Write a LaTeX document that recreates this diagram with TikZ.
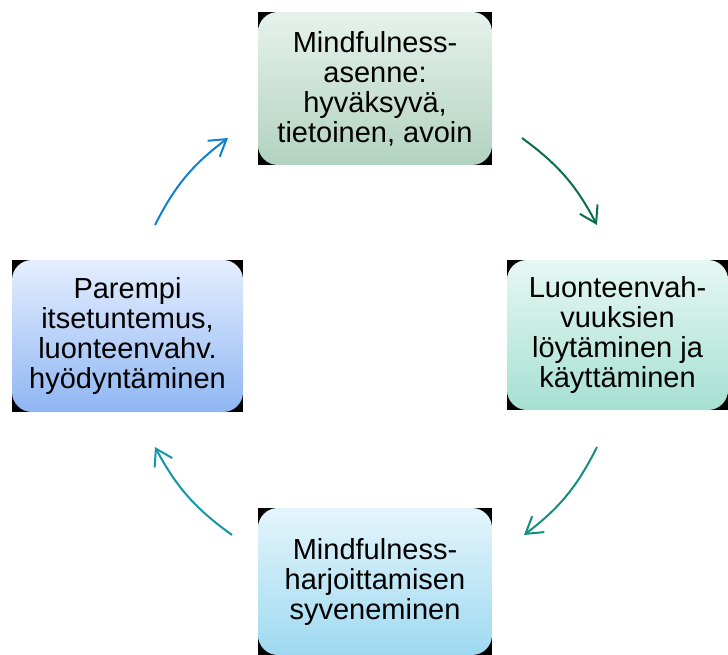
\documentclass[tikz,border=0pt]{standalone}
\usepackage{fontspec}
\setmainfont{Liberation Sans}
\usepackage{tikz}
\usetikzlibrary{arrows.meta, backgrounds}

\definecolor{arrgreen}{HTML}{0A6E4A}
\definecolor{arrteal}{HTML}{138F80}
\definecolor{arrcyan}{HTML}{1398A8}
\definecolor{arrblue}{HTML}{1080D0}

\begin{document}
\begin{tikzpicture}[
  x=1pt, y=-1pt,
  box/.style={rectangle, rounded corners=20pt, align=center, inner sep=0pt,
    minimum width=234pt, minimum height=153pt,
    font=\fontsize{29}{30}\selectfont},
  cyclearrow/.style={-{Straight Barb[length=16pt,width=20pt]}, line width=2pt, bend left=13}
]
\useasboundingbox (0,0) rectangle (728,655);

% Boxes round the cycle
\node[box, top color={rgb,255:red,230;green,242;blue,236}, bottom color={rgb,255:red,178;green,210;blue,192}] (attitude) at (375,88.5)
  {Mindfulness-\\asenne:\\hyväksyvä,\\tietoinen, avoin};
\node[box, minimum width=221pt, minimum height=150pt, top color={rgb,255:red,230;green,247;blue,244}, bottom color={rgb,255:red,166;green,224;blue,210}] (strengths) at (617.5,335)
  {Luonteenvah-\\vuuksien\\löytäminen ja\\käyttäminen};
\node[box, minimum height=147pt, top color={rgb,255:red,228;green,245;blue,252}, bottom color={rgb,255:red,158;green,217;blue,240}] (practice) at (375,581.5)
  {Mindfulness-\\harjoittamisen\\syveneminen};
\node[box, minimum width=231pt, minimum height=152pt, top color={rgb,255:red,228;green,238;blue,255}, bottom color={rgb,255:red,143;green,182;blue,242}] (insight) at (127.5,336)
  {Parempi\\itsetuntemus,\\luonteenvahv.\\hyödyntäminen};

% Black plates behind the rounded corners
\begin{pgfonlayer}{background}
  \foreach \b in {attitude, strengths, practice, insight}
    \fill[black] (\b.south west) rectangle (\b.north east);
\end{pgfonlayer}

% Arrow ends
\coordinate (a1s) at (522,138);
\coordinate (a1e) at (597,225);
\coordinate (a2s) at (597,447);
\coordinate (a2e) at (524,535);
\coordinate (a3s) at (232,535);
\coordinate (a3e) at (155,447);
\coordinate (a4s) at (155,225);
\coordinate (a4e) at (228,138);

% Arrows
\draw[cyclearrow, arrgreen] (a1s) to (a1e);
\draw[cyclearrow, arrteal] (a2s) to (a2e);
\draw[cyclearrow, arrcyan] (a3s) to (a3e);
\draw[cyclearrow, arrblue] (a4s) to (a4e);

\end{tikzpicture}
\end{document}
